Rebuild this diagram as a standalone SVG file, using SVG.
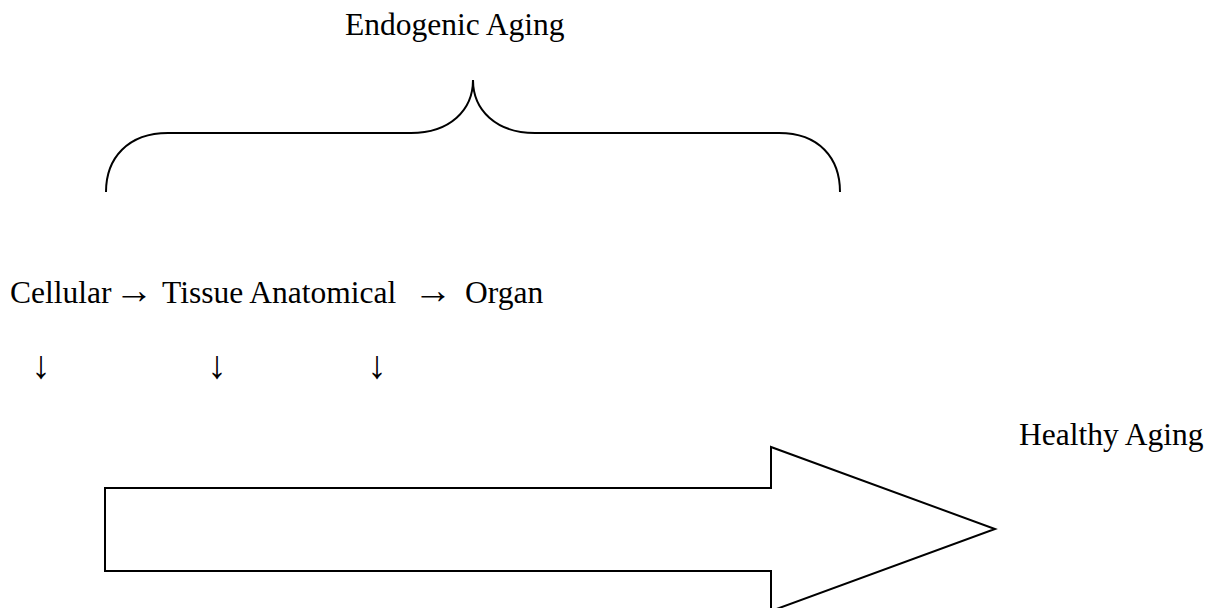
<svg xmlns="http://www.w3.org/2000/svg" width="1219" height="608" viewBox="0 0 1219 608">
<style>
.t{font-family:"Liberation Serif","Times New Roman",serif;font-size:31.5px;fill:#000}
.ar{font-family:"Liberation Serif","Times New Roman",serif;font-size:39px;fill:#000;text-anchor:middle}
.ln{fill:none;stroke:#000;stroke-width:2}
</style>
<rect width="1219" height="608" fill="#fff"/>
<g id="endogenic">
<text class="t" x="345" y="35">Endogenic Aging</text>
</g>
<g id="brace">
<path class="ln" d="M106,192 C106,158 128,133 168,133 L411,133 C450,133 473,110 473,80 C473,110 496,133 535,133 L779,133 C819,133 840,158 840,192"/>
</g>
<g id="levels">
<text class="t" x="10" y="303">Cellular</text>
<text class="ar" x="134" y="303">→</text>
<text class="t" x="162" y="303">Tissue Anatomical</text>
<text class="ar" x="433" y="303">→</text>
<text class="t" x="465" y="303">Organ</text>
</g>
<g id="healthy">
<text class="t" x="1019" y="445">Healthy Aging</text>
</g>
<g id="connectors">
<text class="ar" x="41" y="378">↓</text>
<text class="ar" x="217" y="378">↓</text>
<text class="ar" x="377" y="378">↓</text>
<path class="ln" d="M105,488 L771,488 L771,447 L995,529 L771,611 L771,571 L105,571 Z"/>
</g>
</svg>
